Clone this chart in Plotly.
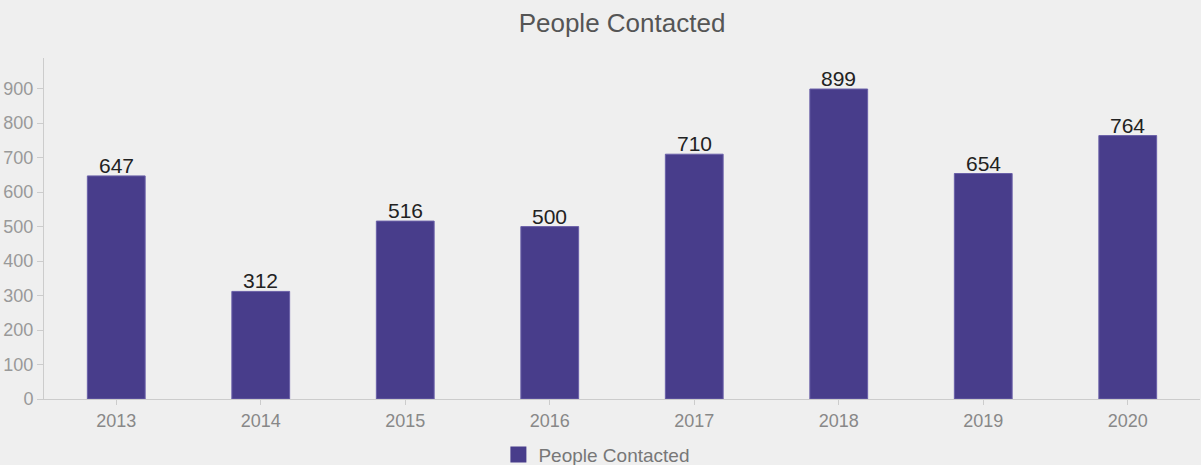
import plotly.graph_objects as go

years = ["2013", "2014", "2015", "2016", "2017", "2018", "2019", "2020"]
people = [647, 312, 516, 500, 710, 899, 654, 764]
series_name = "People Contacted"
bar_color = "#483d8b"

fig = go.Figure()
fig.add_trace(go.Bar(
    x=years, y=people, name=series_name,
    marker=dict(color=bar_color, line=dict(color="#6a60a8", width=1)),
    width=0.4,
    showlegend=False,
))
# value labels just above the bars (x given as category index)
for i, v in enumerate(people):
    fig.add_annotation(x=i, y=v, text=str(v), showarrow=False,
                       yanchor="bottom", yshift=-3,
                       font=dict(family="Liberation Sans, Arial", size=21, color="#222222"))
# legend entry with a larger square swatch
fig.add_trace(go.Scatter(
    x=[years[0]], y=[None], mode="markers", name=series_name,
    marker=dict(symbol="square", size=22, color=bar_color),
    showlegend=True,
))

fig.update_layout(
    width=1201, height=465,
    paper_bgcolor="#efefef", plot_bgcolor="#efefef",
    margin=dict(l=44, r=1, t=58, b=66),
    font=dict(family="Liberation Sans, Arial", color="#888888", size=14),
    title=dict(text="People Contacted", x=0.5, xref="paper", y=0.95, yref="container",
               xanchor="center", yanchor="middle",
               font=dict(size=26, color="#555555")),
    showlegend=True,
    legend=dict(orientation="h", x=0.497, xref="container", xanchor="center",
                y=0.022, yref="container", yanchor="middle",
                font=dict(size=19, color="#777777"), bgcolor="rgba(0,0,0,0)",
                itemwidth=30),
    bargap=0.6,
)
fig.update_xaxes(type="category", range=[-0.5, len(years) - 0.5], showgrid=False,
                 showline=True, linecolor="#cccccc", linewidth=1,
                 ticks="outside", tickcolor="#cccccc", ticklen=5,
                 tickfont=dict(size=18, color="#888888"))
fig.update_yaxes(range=[0, 989], showgrid=False, zeroline=False, showline=True,
                 linecolor="#cccccc", linewidth=1, ticks="outside", tickcolor="#cccccc",
                 ticklen=6, dtick=100, tickfont=dict(size=18, color="#999999"))

fig.write_html("out.html", config={"displayModeBar": False},
               post_script="document.body.style.margin='0';document.body.style.overflow='hidden';")
